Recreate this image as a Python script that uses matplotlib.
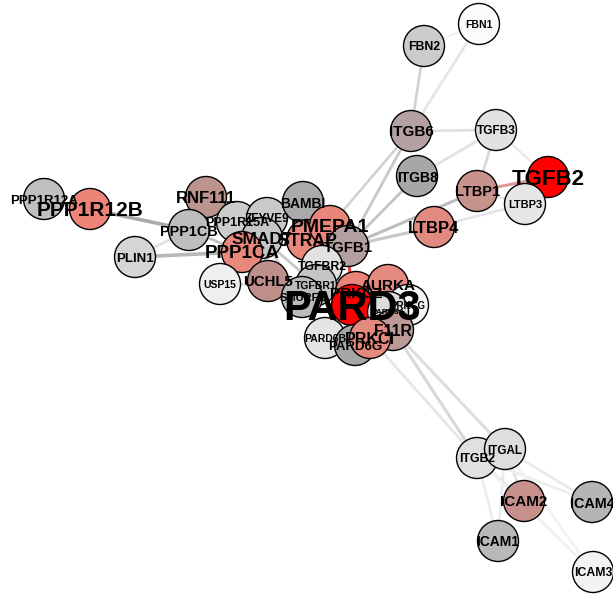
import matplotlib.pyplot as plt

# node names, fill colours, label sizes (pt)
names = ['FBN1', 'FBN2', 'ITGB6', 'TGFB3', 'ITGB8', 'TGFB2', 'LTBP1', 'LTBP3', 'LTBP4',
         'PPP1R12A', 'PPP1R12B', 'RNF111', 'PPP1CB', 'PLIN1', 'PPP1R15A', 'ZFYVE9', 'BAMBI',
         'SMAD7', 'PPP1CA', 'STRAP', 'PMEPA1', 'TGFB1', 'TGFBR2', 'UCHL5', 'USP15', 'TGFBR1',
         'SMURF1', 'PRKCZ', 'AURKA', 'PARD3', 'PRKCG', 'PARD6A', 'F11R', 'PARD6B', 'PARD6G', 'PRKCI',
         'ITGB2', 'ITGAL', 'ICAM2', 'ICAM4', 'ICAM1', 'ICAM3']
fills = ['#fbfbfb', '#cbcbcb', '#b5a1a1', '#e1e1e1', '#a7a7a7', '#ff0000', '#c8938d', '#e6e6e6', '#e08a80',
         '#c0c0c0', '#ec8577', '#bd938e', '#bebebe', '#d5d5d5', '#cccccc', '#c9c9c9', '#aaaaaa',
         '#c6c6c6', '#e8887c', '#e9877c', '#ea857a', '#b39f9f', '#e2e2e2', '#bd8e8a', '#efefef', '#c4c4c4',
         '#bbbbbb', '#e8847a', '#e48a80', '#ff0000', '#f4f4f4', '#dcdcdc', '#bc9a97', '#e4e4e4', '#a6a6a6', '#e3897e',
         '#e0e0e0', '#dedede', '#c8908b', '#b5b5b5', '#b9b9b9', '#f2f2f2']
label_pt = [7.5, 8.8, 11, 8.6, 10, 16, 10.5, 8, 12,
            9.5, 15, 12, 10.4, 9.5, 9, 8.6, 10,
            12.5, 13.5, 12.7, 14, 10.8, 8.8, 10.8, 7.5, 7.5,
            8, 11, 11, 30, 7, 6, 11.3, 7.5, 9.5, 11.5,
            8.8, 8.4, 11, 10.4, 10, 8.8]

# layout (pixel space of the original render)
layout = {
    'FBN1': (479, 24), 'FBN2': (424, 46), 'ITGB6': (411, 131), 'TGFB3': (496, 130),
    'ITGB8': (417, 176), 'TGFB2': (548, 177), 'LTBP1': (477, 191), 'LTBP3': (525, 204),
    'LTBP4': (434, 227), 'PPP1R12A': (44, 199), 'PPP1R12B': (90, 209), 'RNF111': (206, 197),
    'PPP1CB': (189, 230), 'PLIN1': (135, 257), 'PPP1R15A': (237, 222), 'ZFYVE9': (267, 218),
    'BAMBI': (303, 202), 'SMAD7': (262, 238), 'PPP1CA': (242, 252), 'STRAP': (307, 240),
    'PMEPA1': (330, 226), 'TGFB1': (348, 246), 'TGFBR2': (322, 266), 'UCHL5': (268, 281),
    'USP15': (220, 284), 'TGFBR1': (316, 285), 'SMURF1': (302, 297), 'PRKCZ': (356, 292),
    'AURKA': (388, 285), 'PARD3': (352, 305), 'PRKCG': (408, 305), 'PARD6A': (388, 312),
    'F11R': (393, 330), 'PARD6B': (325, 338), 'PARD6G': (355, 345), 'PRKCI': (370, 338),
    'ITGB2': (477, 458), 'ITGAL': (505, 449), 'ICAM2': (524, 501), 'ICAM4': (592, 502),
    'ICAM1': (498, 541), 'ICAM3': (593, 572),
}

# edges: (a, b, colour, width)
edges = [
    ('FBN1', 'ITGB6', '#e6e6e6', 2.0), ('FBN1', 'FBN2', '#f0f0f0', 1.6), ('FBN2', 'ITGB6', '#d2d2d2', 2.0),
    ('ITGB6', 'TGFB3', '#e2e2e2', 2.0), ('ITGB6', 'TGFB1', '#c8c8c8', 2.0), ('ITGB6', 'PMEPA1', '#d0d0d0', 1.8),
    ('ITGB8', 'TGFB3', '#e2e2e2', 2.0), ('ITGB8', 'TGFB1', '#c4c4c4', 2.0),
    ('TGFB3', 'LTBP1', '#d8d8d8', 2.0), ('TGFB3', 'TGFB2', '#eaeaea', 1.8),
    ('LTBP1', 'TGFB2', '#e19a91', 2.2), ('LTBP1', 'TGFB1', '#bdbdbd', 2.2), ('LTBP1', 'LTBP3', '#e4e4e4', 1.8),
    ('LTBP3', 'LTBP4', '#e4e4e4', 1.8), ('LTBP4', 'TGFB1', '#c8c8c8', 2.2),
    ('PPP1R12A', 'PPP1R12B', '#bbbbbb', 2.0), ('PPP1R12B', 'PPP1CB', '#a9a9a9', 2.6),
    ('PLIN1', 'PPP1CB', '#e2e2e2', 2.0), ('PLIN1', 'PPP1CA', '#b8b8b8', 2.6),
    ('PPP1CB', 'PPP1CA', '#c2c2c2', 2.0), ('PPP1CB', 'PPP1R15A', '#cfcfcf', 2.0),
    ('RNF111', 'SMAD7', '#c8c8c8', 2.0), ('PPP1R15A', 'PPP1CA', '#c8c8c8', 2.0),
    ('PPP1R15A', 'SMAD7', '#d0d0d0', 2.0), ('ZFYVE9', 'SMAD7', '#cccccc', 2.0),
    ('BAMBI', 'SMAD7', '#c4c4c4', 2.0), ('PMEPA1', 'SMAD7', '#c8c8c8', 2.0),
    ('STRAP', 'SMAD7', '#c8c8c8', 2.0), ('PPP1CA', 'SMAD7', '#c0c0c0', 2.0),
    ('UCHL5', 'SMAD7', '#d0d0d0', 2.0), ('USP15', 'SMAD7', '#e0e0e0', 2.0),
    ('USP15', 'TGFBR1', '#e0e0e0', 2.0), ('SMURF1', 'SMAD7', '#d0d0d0', 2.0),
    ('SMURF1', 'TGFBR1', '#d0d0d0', 2.0), ('TGFB1', 'TGFBR2', '#c8c8c8', 2.0),
    ('TGFBR2', 'TGFBR1', '#cccccc', 2.0), ('TGFBR1', 'SMAD7', '#c8c8c8', 2.0),
    ('TGFBR1', 'PARD3', '#e08080', 2.0), ('TGFB1', 'PARD3', '#ee3b3b', 2.2),
    ('PARD3', 'PRKCZ', '#e08a80', 2.0), ('PARD3', 'AURKA', '#e08a80', 2.0),
    ('PARD3', 'PRKCI', '#e08a80', 2.0), ('PARD3', 'PARD6A', '#d8d8d8', 2.0),
    ('PARD3', 'PARD6B', '#d8d8d8', 2.0), ('PARD3', 'PARD6G', '#c8c8c8', 2.0),
    ('PARD3', 'F11R', '#c8c8c8', 2.0), ('PARD3', 'PRKCG', '#e8e8e8', 2.0),
    ('PARD3', 'TGFBR2', '#d8d8d8', 2.0),
    ('F11R', 'ITGAL', '#dedede', 2.2), ('F11R', 'ITGB2', '#d8d8d8', 2.2),
    ('PRKCI', 'ITGB2', '#e6e6e6', 2.0),
    ('ITGB2', 'ITGAL', '#e2e2e2', 2.0), ('ITGB2', 'ICAM1', '#ececec', 2.0),
    ('ITGAL', 'ICAM1', '#ececec', 2.0), ('ITGB2', 'ICAM2', '#e4e4e4', 2.0),
    ('ITGAL', 'ICAM2', '#e4e4e4', 2.0), ('ITGB2', 'ICAM4', '#eeeeee', 2.0),
    ('ITGAL', 'ICAM4', '#eaeaea', 2.0), ('ITGB2', 'ICAM3', '#f2f2f2', 2.0),
    ('ITGAL', 'ICAM3', '#f2f2f2', 2.0),
]

fig = plt.figure(figsize=(6.13, 5.96), dpi=100)
ax = fig.add_axes([0, 0, 1, 1])
ax.set_xlim(0, 613)
ax.set_ylim(596, 0)
ax.axis('off')

for a, b, col, lw in edges:
    xa, ya = layout[a]
    xb, yb = layout[b]
    ax.plot([xa, xb], [ya, yb], color=col, lw=lw, solid_capstyle='butt', zorder=1)

xs = [layout[n][0] for n in names]
ys = [layout[n][1] for n in names]
ax.scatter(xs, ys, s=(41 * 0.72) ** 2, c=fills, edgecolors='black', linewidths=1.0, zorder=2)

for n, x, y, fs in zip(names, xs, ys, label_pt):
    ax.text(x, y, n, ha='center', va='center_baseline', fontsize=fs, fontweight='bold',
            family='Liberation Sans', color='black', zorder=3)

fig.savefig('out.png', dpi=100)
